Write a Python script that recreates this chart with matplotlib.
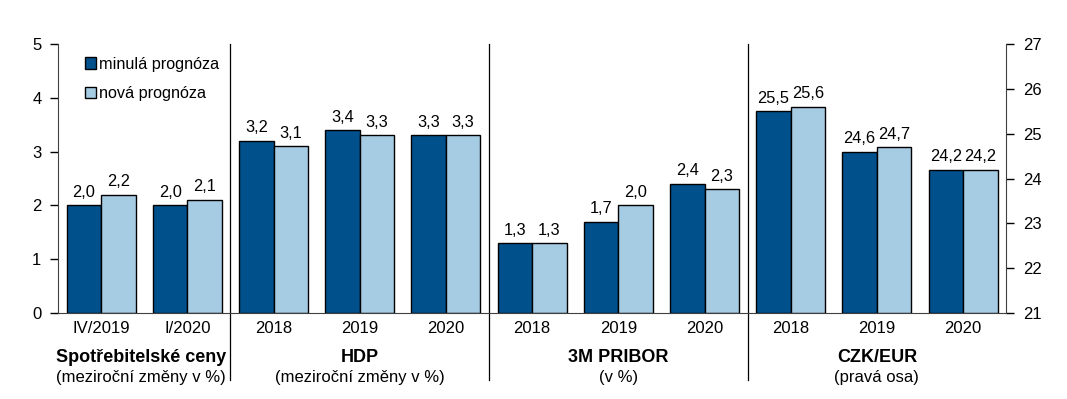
import matplotlib.pyplot as plt
import numpy as np

plt.rcParams["font.family"] = ["Liberation Sans", "DejaVu Sans"]

# data
categories = ["IV/2019", "I/2020", "2018", "2019", "2020",
              "2018", "2019", "2020", "2018", "2019", "2020"]
old_left = [2.0, 2.0, 3.2, 3.4, 3.3, 1.3, 1.7, 2.4]
new_left = [2.2, 2.1, 3.1, 3.3, 3.3, 1.3, 2.0, 2.3]
old_czk = [25.5, 24.6, 24.2]
new_czk = [25.6, 24.7, 24.2]
group_titles = ["Spotřebitelské ceny", "HDP", "3M PRIBOR", "CZK/EUR"]
group_subtitles = ["(meziroční změny v %)", "(meziroční změny v %)",
                   "(v %)", "(pravá osa)"]
group_centers = [0.46, 3, 6, 9]
separators = [1.5, 4.5, 7.5]
series_names = ["minulá prognóza", "nová prognóza"]

DARK = "#00508C"
LIGHT = "#A6CCE4"
FS = 12

fig = plt.figure(figsize=(10.67, 3.99), dpi=100)
ax = fig.add_axes([0.0544, 0.2155, 0.8886, 0.6742])
ax2 = ax.twinx()

w = 0.4
x_left = np.arange(len(old_left))
x_czk = np.arange(len(old_left), len(categories))

ax.bar(x_left - w / 2, old_left, w, color=DARK, edgecolor="black",
       lw=1.0, label=series_names[0])
ax.bar(x_left + w / 2, new_left, w, color=LIGHT, edgecolor="black",
       lw=1.0, label=series_names[1])
ax2.bar(x_czk - w / 2, np.array(old_czk) - 21, w, bottom=21, color=DARK,
        edgecolor="black", lw=1.0)
ax2.bar(x_czk + w / 2, np.array(new_czk) - 21, w, bottom=21, color=LIGHT,
        edgecolor="black", lw=1.0)

def fmt(v):
    return f"{v:.1f}".replace(".", ",")

for xs, vals, a in [(x_left - w / 2, old_left, ax), (x_left + w / 2, new_left, ax),
                    (x_czk - w / 2, old_czk, ax2), (x_czk + w / 2, new_czk, ax2)]:
    for xx, v in zip(xs, vals):
        a.annotate(fmt(v), (xx, v), xytext=(0, 4), textcoords="offset points",
                   ha="center", va="bottom", fontsize=11.8)

ax.set_xlim(-0.5, len(categories) - 0.5)
ax.set_ylim(0, 5)
ax2.set_ylim(21, 27)
ax.set_yticks(range(0, 6))
ax2.set_yticks(range(21, 28))
ax.set_xticks(range(len(categories)))
ax.set_xticklabels(categories, fontsize=FS)
ax.tick_params(axis="x", length=0, pad=6)
ax.tick_params(axis="y", labelsize=FS, length=6, width=1.0, pad=6)
ax2.tick_params(axis="y", labelsize=FS, length=6, width=1.0, pad=6)

for a in (ax, ax2):
    a.spines["top"].set_visible(False)
ax.spines["right"].set_visible(False)
ax2.spines["left"].set_visible(False)
ax2.spines["bottom"].set_visible(False)
for a in (ax, ax2):
    for s in a.spines.values():
        s.set_color("#404040")

for sx in separators:
    ax.plot([sx, sx], [-1.25, 5.0], color="black", lw=0.9, clip_on=False)

for cx, t, st in zip(group_centers, group_titles, group_subtitles):
    ax.text(cx, -0.82, t, ha="center", va="center", fontsize=13,
            fontweight="bold")
    ax.text(cx, -1.2, st, ha="center", va="center", fontsize=FS)

ax.legend(loc="upper left", bbox_to_anchor=(0.011, 1.013), frameon=False,
          fontsize=11.7, handlelength=0.7, handleheight=0.7, handletextpad=0.2,
          labelspacing=0.9, borderaxespad=0.6)

fig.savefig("out.png", dpi=100)
